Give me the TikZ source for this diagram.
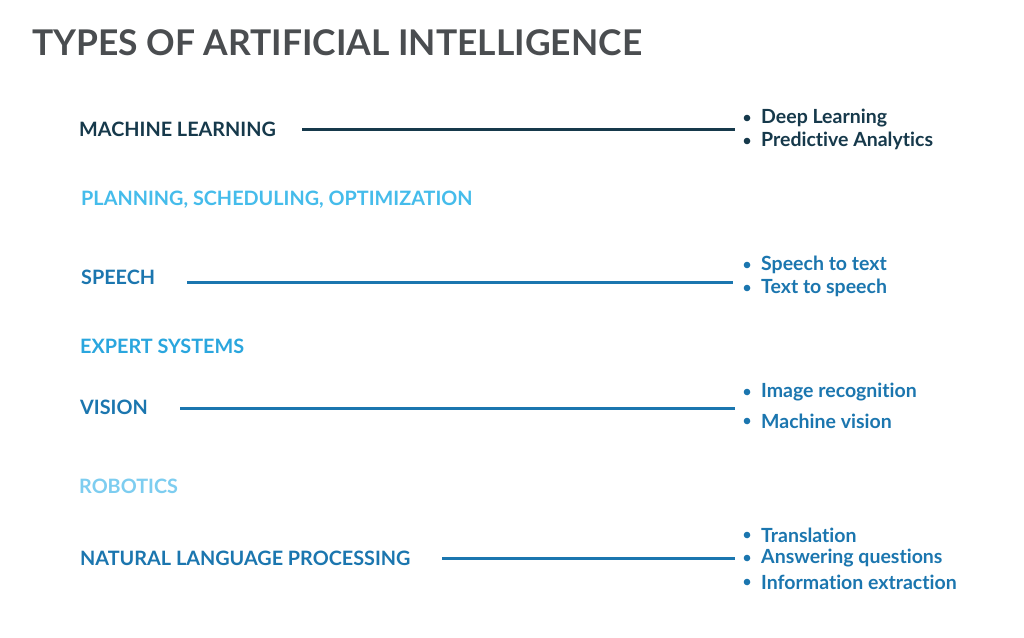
\documentclass[tikz,border=0pt]{standalone}
\usepackage{fontspec}
\setmainfont{Lato}[BoldFont={* Bold},Ligatures={NoCommon,NoRare,NoDiscretionary}]
\definecolor{ttl}{HTML}{4A4D50}
\definecolor{navy}{HTML}{16394B}
\definecolor{blu}{HTML}{1B76AF}
\definecolor{lb1}{HTML}{45BCEB}
\definecolor{lb2}{HTML}{2AA6DE}
\definecolor{lb3}{HTML}{7DCDF0}
\begin{document}
\begin{tikzpicture}[x=1pt,y=-1pt,
  cat/.style={anchor=west,inner sep=0pt,font=\fontsize{19.8}{22}\bfseries\selectfont},
  itm/.style={anchor=west,inner sep=0pt,font=\fontsize{19.5}{22}\bfseries\selectfont},
  conn/.style={line width=3pt}]
\useasboundingbox (0,0) rectangle (1024,637);
\fill[white] (0,0) rectangle (1024,637);
\node[anchor=west,inner sep=0pt,text=ttl,font=\fontsize{35.4}{40}\bfseries\selectfont] (title) at (32,43) {TYPES OF ARTIFICIAL INTELLIGENCE};
\node[cat,text=navy] (ml) at (79,129) {MACHINE LEARNING};
\node[cat,text=lb1] (pl) at (81,200) {PLANNING, SCHEDULING, OPTIMIZATION};
\node[cat,text=blu] (sp) at (81,277) {SPEECH};
\node[cat,text=lb2] (ex) at (80,346) {EXPERT SYSTEMS};
\node[cat,text=blu] (vi) at (80,407) {VISION};
\node[cat,text=lb3] (ro) at (79,486) {ROBOTICS};
\node[cat,text=blu] (nl) at (80,558) {NATURAL LANGUAGE PROCESSING};
\coordinate (mle) at (735,129);
\coordinate (spe) at (733,282);
\coordinate (vie) at (735,408);
\coordinate (nle) at (735,558);
\draw[conn,navy] (302,129) coordinate (mls) -- (mle);
\draw[conn,blu] (187,282) coordinate (sps) -- (spe);
\draw[conn,blu] (180,408) coordinate (vis) -- (vie);
\draw[conn,blu] (442,558) coordinate (nls) -- (nle);
\foreach \t/\y/\c [count=\i] in {Deep Learning/118/navy,Predictive Analytics/141/navy,Speech to text/265/blu,Text to speech/288/blu,Image recognition/392/blu,Machine vision/421/blu,Translation/535/blu,Answering questions/558/blu,Information extraction/582/blu}{
  \fill[\c] (747,\y) circle (3.3pt);
  \node[itm,text=\c] (b\i) at (761,\y) {\t};
}
\end{tikzpicture}
\end{document}
